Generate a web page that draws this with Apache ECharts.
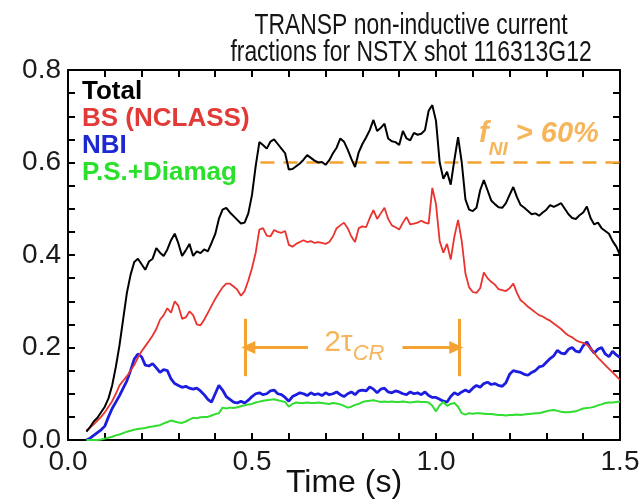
<!DOCTYPE html>
<html>
<head>
<meta charset="utf-8">
<script src="https://cdn.jsdelivr.net/npm/echarts@6/dist/echarts.min.js"></script>
<style>
  html, body { margin: 0; padding: 0; background: #ffffff; }
  #chart { width: 641px; height: 501px; }
</style>
</head>
<body>
<div id="chart"></div>
<script>
// Time base of the TRANSP run (s)
const time = [
  0.05,0.06,0.07,0.08,0.09,0.10,0.11,0.12,0.13,0.14,
  0.15,0.16,0.17,0.18,0.19,0.20,0.21,0.22,0.23,0.24,
  0.25,0.26,0.27,0.28,0.29,0.30,0.31,0.32,0.33,0.34,
  0.35,0.36,0.37,0.38,0.39,0.40,0.41,0.42,0.43,0.44,
  0.45,0.46,0.47,0.48,0.49,0.50,0.51,0.52,0.53,0.54,
  0.55,0.56,0.57,0.58,0.59,0.60,0.61,0.62,0.63,0.64,
  0.65,0.66,0.67,0.68,0.69,0.70,0.71,0.72,0.73,0.74,
  0.75,0.76,0.77,0.78,0.79,0.80,0.81,0.82,0.83,0.84,
  0.85,0.86,0.87,0.88,0.89,0.90,0.91,0.92,0.93,0.94,
  0.95,0.96,0.97,0.98,0.99,1.00,1.01,1.02,1.03,1.04,
  1.05,1.06,1.07,1.08,1.09,1.10,1.11,1.12,1.13,1.14,
  1.15,1.16,1.17,1.18,1.19,1.20,1.21,1.22,1.23,1.24,
  1.25,1.26,1.27,1.28,1.29,1.30,1.31,1.32,1.33,1.34,
  1.35,1.36,1.37,1.38,1.39,1.40,1.41,1.42,1.43,1.44,
  1.45,1.46,1.47,1.48,1.49,1.50
];

// Total non-inductive current fraction
const total = [
  0.018,0.028,0.040,0.048,0.060,0.072,0.090,0.118,0.158,0.205,
  0.262,0.318,0.357,0.385,0.392,0.380,0.368,0.386,0.392,0.415,
  0.405,0.398,0.412,0.432,0.446,0.425,0.398,0.410,0.424,0.398,
  0.408,0.404,0.412,0.408,0.426,0.445,0.478,0.498,0.502,0.492,
  0.484,0.476,0.468,0.470,0.490,0.530,0.592,0.644,0.638,0.630,
  0.645,0.650,0.640,0.630,0.620,0.585,0.586,0.592,0.598,0.606,
  0.616,0.610,0.604,0.600,0.601,0.595,0.605,0.620,0.632,0.652,
  0.645,0.628,0.608,0.590,0.622,0.640,0.654,0.670,0.692,0.668,
  0.675,0.684,0.652,0.646,0.644,0.638,0.668,0.652,0.648,0.664,
  0.660,0.662,0.670,0.712,0.724,0.690,0.600,0.565,0.580,0.552,
  0.606,0.655,0.600,0.520,0.498,0.495,0.502,0.540,0.562,0.540,
  0.518,0.510,0.503,0.502,0.512,0.530,0.547,0.525,0.508,0.502,
  0.495,0.488,0.490,0.485,0.492,0.498,0.508,0.504,0.508,0.512,
  0.500,0.488,0.480,0.478,0.486,0.492,0.505,0.480,0.466,0.470,
  0.458,0.452,0.446,0.430,0.418,0.400
];

// Bootstrap current fraction (NCLASS)
const bootstrap = [
  0.020,0.027,0.034,0.042,0.050,0.060,0.072,0.084,0.100,0.118,
  0.128,0.138,0.150,0.162,0.178,0.192,0.203,0.214,0.226,0.240,
  0.260,0.270,0.285,0.275,0.300,0.290,0.262,0.265,0.278,0.270,
  0.250,0.248,0.260,0.275,0.290,0.305,0.318,0.330,0.338,0.338,
  0.332,0.325,0.312,0.322,0.345,0.372,0.405,0.455,0.458,0.442,
  0.440,0.454,0.450,0.448,0.452,0.422,0.418,0.424,0.428,0.432,
  0.428,0.430,0.426,0.428,0.426,0.424,0.428,0.440,0.458,0.464,
  0.470,0.458,0.440,0.428,0.458,0.462,0.460,0.480,0.497,0.478,
  0.490,0.502,0.478,0.464,0.460,0.455,0.470,0.482,0.466,0.468,
  0.470,0.474,0.470,0.468,0.545,0.510,0.430,0.405,0.424,0.390,
  0.440,0.476,0.430,0.360,0.330,0.320,0.318,0.328,0.362,0.350,
  0.342,0.336,0.326,0.324,0.322,0.328,0.338,0.318,0.302,0.296,
  0.288,0.282,0.276,0.270,0.267,0.262,0.258,0.252,0.246,0.240,
  0.232,0.226,0.222,0.216,0.212,0.210,0.206,0.198,0.188,0.178,
  0.170,0.162,0.154,0.146,0.138,0.130
];

// Neutral-beam driven current fraction
const nbi = [
  0.000,0.004,0.010,0.016,0.022,0.030,0.050,0.068,0.082,0.096,
  0.112,0.128,0.150,0.175,0.186,0.180,0.162,0.160,0.165,0.156,
  0.146,0.152,0.150,0.132,0.122,0.118,0.114,0.116,0.112,0.110,
  0.112,0.106,0.098,0.088,0.082,0.100,0.118,0.108,0.094,0.088,
  0.082,0.080,0.084,0.080,0.086,0.094,0.100,0.102,0.098,0.100,
  0.106,0.108,0.100,0.098,0.092,0.084,0.094,0.098,0.102,0.100,
  0.096,0.102,0.098,0.100,0.096,0.102,0.098,0.100,0.104,0.098,
  0.094,0.100,0.104,0.098,0.106,0.108,0.106,0.115,0.110,0.102,
  0.110,0.112,0.104,0.102,0.106,0.104,0.100,0.098,0.104,0.100,
  0.102,0.098,0.104,0.096,0.092,0.092,0.088,0.084,0.082,0.094,
  0.102,0.098,0.104,0.108,0.104,0.112,0.118,0.114,0.122,0.125,
  0.120,0.122,0.118,0.116,0.124,0.142,0.150,0.148,0.146,0.142,
  0.140,0.146,0.150,0.158,0.160,0.168,0.176,0.182,0.194,0.188,
  0.186,0.196,0.200,0.192,0.190,0.204,0.212,0.198,0.188,0.196,
  0.200,0.186,0.180,0.192,0.184,0.178
];

// Pressure-driven + diamagnetic current fraction
const psDiamag = [
  0.000,0.000,0.000,0.000,0.001,0.003,0.005,0.007,0.010,0.012,
  0.015,0.018,0.020,0.022,0.024,0.025,0.026,0.028,0.029,0.031,
  0.032,0.036,0.039,0.042,0.040,0.038,0.037,0.040,0.044,0.048,
  0.047,0.049,0.050,0.050,0.053,0.056,0.058,0.070,0.068,0.070,
  0.069,0.071,0.073,0.075,0.077,0.078,0.081,0.083,0.085,0.086,
  0.087,0.088,0.086,0.084,0.082,0.072,0.078,0.081,0.080,0.080,
  0.081,0.080,0.080,0.081,0.080,0.079,0.078,0.080,0.079,0.077,
  0.074,0.070,0.072,0.076,0.078,0.082,0.084,0.085,0.086,0.084,
  0.082,0.083,0.082,0.083,0.082,0.082,0.083,0.082,0.081,0.082,
  0.083,0.082,0.082,0.081,0.074,0.062,0.075,0.082,0.074,0.078,
  0.080,0.072,0.058,0.055,0.058,0.057,0.058,0.058,0.057,0.056,
  0.056,0.055,0.054,0.054,0.053,0.054,0.054,0.055,0.054,0.055,
  0.056,0.057,0.058,0.058,0.060,0.062,0.064,0.065,0.063,0.061,
  0.060,0.060,0.061,0.062,0.065,0.068,0.069,0.070,0.072,0.075,
  0.077,0.080,0.081,0.081,0.082,0.083
];

// Labelled tick values
const xLabelTicks = [0.0, 0.5, 1.0, 1.5];
const yLabelTicks = [0.0, 0.2, 0.4, 0.6, 0.8];

// Annotation values: f_NI > 60% threshold and the 2 tau_CR window
const thresholdLevel = 0.6;
const thresholdStart = 0.523;
const crWindow = [0.482, 1.062];
const crBarRange = [0.138, 0.262];
const crArrowLevel = 0.2;
const crArrowTails = [0.652, 0.909];
const crArrowTips = [0.490, 1.055];
const fniLabelAt = [1.117, 0.650];
const crLabelAt = [0.696, 0.203];

const pairs = vals => time.map((t, i) => [t, vals[i]]);
const pickLabel = list => v => list.some(t => Math.abs(t - v) < 1e-6) ? v.toFixed(1) : '';

const orange = '#F4A332';
const sansFont = "'Liberation Sans', Arial, Helvetica, sans-serif";

const frameLine = { show: true, onZero: false, lineStyle: { color: '#000', width: 2 } };
const frameTick = { show: true, inside: true, length: 7, lineStyle: { color: '#000', width: 2 } };

const chart = echarts.init(document.getElementById('chart'), null, { renderer: 'canvas' });

// Condensed title lines (horizontally compressed sans)
const titleLine = (text, y) => ({
  type: 'text', x: 411, y: y, scaleX: 0.79, silent: true,
  style: { text: text, fontFamily: sansFont, fontSize: 29, fill: '#151515',
           align: 'center', verticalAlign: 'middle' }
});

const option = {
  animation: false,
  backgroundColor: '#ffffff',
  graphic: [
    titleLine('TRANSP non-inductive current', 26),
    titleLine('fractions for NSTX shot 116313G12', 53)
  ],
  grid: { left: 68, right: 21, top: 70, bottom: 61, containLabel: false, outerBoundsMode: 'none' },
  legend: {
    orient: 'vertical', left: 72, top: 74, itemGap: 1,
    itemWidth: 0, itemHeight: 0, icon: 'none', selectedMode: false,
    textStyle: { fontFamily: sansFont, fontWeight: 'bold', fontSize: 26 },
    data: [
      { name: 'Total', textStyle: { color: '#000000' } },
      { name: 'BS (NCLASS)', textStyle: { color: '#E23A36' } },
      { name: 'NBI', textStyle: { color: '#1E28D2' } },
      { name: 'P.S.+Diamag', textStyle: { color: '#2BE02B' } }
    ]
  },
  xAxis: [
    { type: 'value', min: 0, max: 1.5, interval: 0.1,
      axisLine: frameLine, axisTick: frameTick, splitLine: { show: false },
      axisLabel: { formatter: pickLabel(xLabelTicks), fontFamily: sansFont, fontSize: 28,
                   color: '#1a1a1a', margin: 8 },
      name: 'Time (s)', nameLocation: 'middle', nameGap: 27, nameMoveOverlap: false,
      nameTextStyle: { fontFamily: sansFont, fontSize: 32, color: '#111' } },
    { type: 'value', position: 'top', min: 0, max: 1.5, interval: 0.1,
      axisLine: frameLine, axisTick: frameTick, splitLine: { show: false },
      axisLabel: { show: false } }
  ],
  yAxis: [
    { type: 'value', min: 0, max: 0.8, interval: 0.05,
      axisLine: frameLine, axisTick: frameTick, splitLine: { show: false },
      axisLabel: { formatter: pickLabel(yLabelTicks), fontFamily: sansFont, fontSize: 28,
                   color: '#1a1a1a', margin: 7 } },
    { type: 'value', position: 'right', min: 0, max: 0.8, interval: 0.05,
      axisLine: frameLine, axisTick: frameTick, splitLine: { show: false },
      axisLabel: { show: false } }
  ],
  series: [
    { name: 'threshold', type: 'line', silent: true, symbol: 'none', z: 1,
      data: [[thresholdStart, thresholdLevel], [1.5, thresholdLevel]],
      lineStyle: { color: orange, width: 2.5, type: [14, 9] } },
    { name: 'Total', type: 'line', data: pairs(total), symbol: 'none', showSymbol: false, z: 5,
      itemStyle: { color: '#000000' }, lineStyle: { color: '#000000', width: 2 } },
    { name: 'BS (NCLASS)', type: 'line', data: pairs(bootstrap), symbol: 'none', showSymbol: false, z: 4,
      itemStyle: { color: '#E8332F' }, lineStyle: { color: '#E8332F', width: 1.8 } },
    { name: 'NBI', type: 'line', data: pairs(nbi), symbol: 'none', showSymbol: false, z: 3,
      itemStyle: { color: '#1D1DE0' }, lineStyle: { color: '#1D1DE0', width: 2.8 } },
    { name: 'P.S.+Diamag', type: 'line', data: pairs(psDiamag), symbol: 'none', showSymbol: false, z: 3,
      itemStyle: { color: '#30DD30' }, lineStyle: { color: '#30DD30', width: 2 } },
    { name: 'crWindow', type: 'line', data: [], silent: true,
      markLine: {
        silent: true, symbol: ['none', 'none'], animation: false,
        label: { show: false },
        lineStyle: { color: orange, width: 3, type: 'solid' },
        data: [
          [{ coord: [crWindow[0], crBarRange[0]] }, { coord: [crWindow[0], crBarRange[1]] }],
          [{ coord: [crWindow[1], crBarRange[0]] }, { coord: [crWindow[1], crBarRange[1]] }],
          [{ coord: [crArrowTails[0], crArrowLevel] },
           { coord: [crArrowTips[0], crArrowLevel], symbol: 'triangle', symbolSize: [13, 14] }],
          [{ coord: [crArrowTails[1], crArrowLevel] },
           { coord: [crArrowTips[1], crArrowLevel], symbol: 'triangle', symbolSize: [13, 14] }]
        ]
      } },
    { name: 'fniLabel', type: 'scatter', silent: true, symbolSize: 0, data: [fniLabelAt],
      label: { show: true, position: 'right', distance: 0,
        formatter: '{f|f}{s|NI}{m| > 60%}',
        rich: {
          f: { fontFamily: sansFont, fontSize: 29, fontStyle: 'italic', fontWeight: 'bold',
               color: orange, verticalAlign: 'bottom', padding: [0, 0, 10, 0] },
          s: { fontFamily: sansFont, fontSize: 19, fontStyle: 'italic', fontWeight: 'bold',
               color: orange, verticalAlign: 'bottom' },
          m: { fontFamily: sansFont, fontSize: 29, fontStyle: 'italic', fontWeight: 'bold',
               color: orange, verticalAlign: 'bottom', padding: [0, 0, 10, 0] }
        } } },
    { name: 'crLabel', type: 'scatter', silent: true, symbolSize: 0, data: [crLabelAt],
      label: { show: true, position: 'right', distance: 0,
        formatter: '{a|2\u03C4}{c|CR}',
        rich: {
          a: { fontFamily: sansFont, fontSize: 30, color: orange,
               verticalAlign: 'bottom', padding: [0, 0, 7, 0] },
          c: { fontFamily: sansFont, fontSize: 22, fontStyle: 'italic', color: orange,
               verticalAlign: 'bottom' }
        } } }
  ]
};

chart.setOption(option);
</script>
</body>
</html>
